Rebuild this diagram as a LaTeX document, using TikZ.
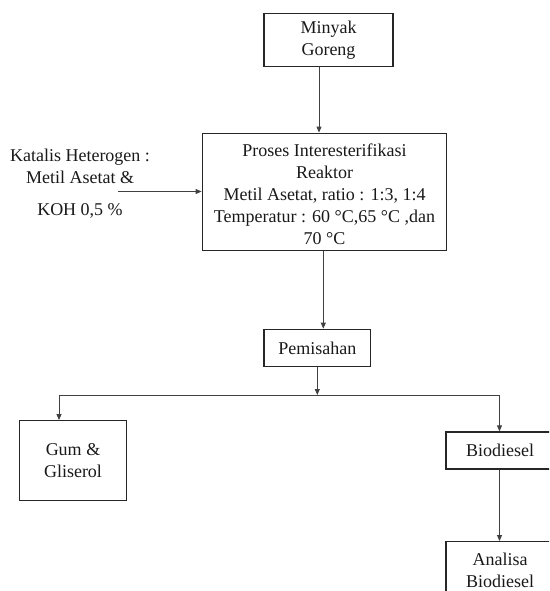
\documentclass[tikz,border=0pt]{standalone}
\usepackage{fontspec}
\setmainfont{Liberation Serif}
\usetikzlibrary{arrows.meta}
\begin{document}
\begin{tikzpicture}[x=1pt,y=-1pt,
  box/.style={draw=black!85,line width=1.3pt,align=center,inner sep=0pt,
    font=\fontsize{18}{22}\selectfont,text=black!90},
  lbl/.style={align=center,inner sep=0pt,font=\fontsize{18}{22}\selectfont,text=black!90},
  arr/.style={draw=black!75,line width=0.9pt,-{Triangle[length=6pt,width=5pt]}},
  ln/.style={draw=black!75,line width=0.9pt}]
\useasboundingbox (0,0) rectangle (549,591);
\clip (0,0) rectangle (549,591);
\node[box,minimum width=129pt,minimum height=53.5pt] (minyak) at (328.5,40) {Minyak\\Goreng};
\node[box,minimum width=244.5pt,minimum height=117.5pt] (proses) at (324.5,192) {};
\node[lbl] (prosestext) at (324.5,194.5)
  {Proses Interesterifikasi\\Reaktor\\Metil Asetat, ratio : 1:3, 1:4\\Temperatur : 60 °C,65 °C ,dan\\70 °C};
\node[lbl] (katalis) at (80,184) {Katalis Heterogen :\\Metil Asetat \&\\[10pt]KOH 0,5 \%};
\node[box,minimum width=106.7pt,minimum height=37.4pt] (pemisahan) at (317.3,348) {Pemisahan};
\node[box,minimum width=107.4pt,minimum height=80pt] (gum) at (73,460.7) {Gum \&\\Gliserol};
\node[box,minimum width=108pt,minimum height=37pt] (bio) at (500,450.5) {Biodiesel};
\node[box,minimum width=108pt,minimum height=57pt] (analisa) at (500,570.2) {Analisa\\Biodiesel};
\coordinate (a1) at (319,0);
\coordinate (a2) at (323.3,0);
\coordinate (kat) at (118,191.5);
\coordinate (split) at (317.3,395);
\coordinate (gl) at (59,395);
\coordinate (br) at (499.5,395);
\draw[arr] (minyak.south -| a1) -- (proses.north -| a1);
\draw[arr] (kat) -- (proses.west |- kat);
\draw[arr] (proses.south -| a2) -- (pemisahan.north -| a2);
\draw[arr] (pemisahan.south -| split) -- (split);
\draw[ln] (gl) -- (br);
\draw[arr] (gl) -- (gum.north -| gl);
\draw[arr] (br) -- (bio.north -| br);
\draw[arr] (bio.south -| br) -- (analisa.north -| br);
\end{tikzpicture}
\end{document}
